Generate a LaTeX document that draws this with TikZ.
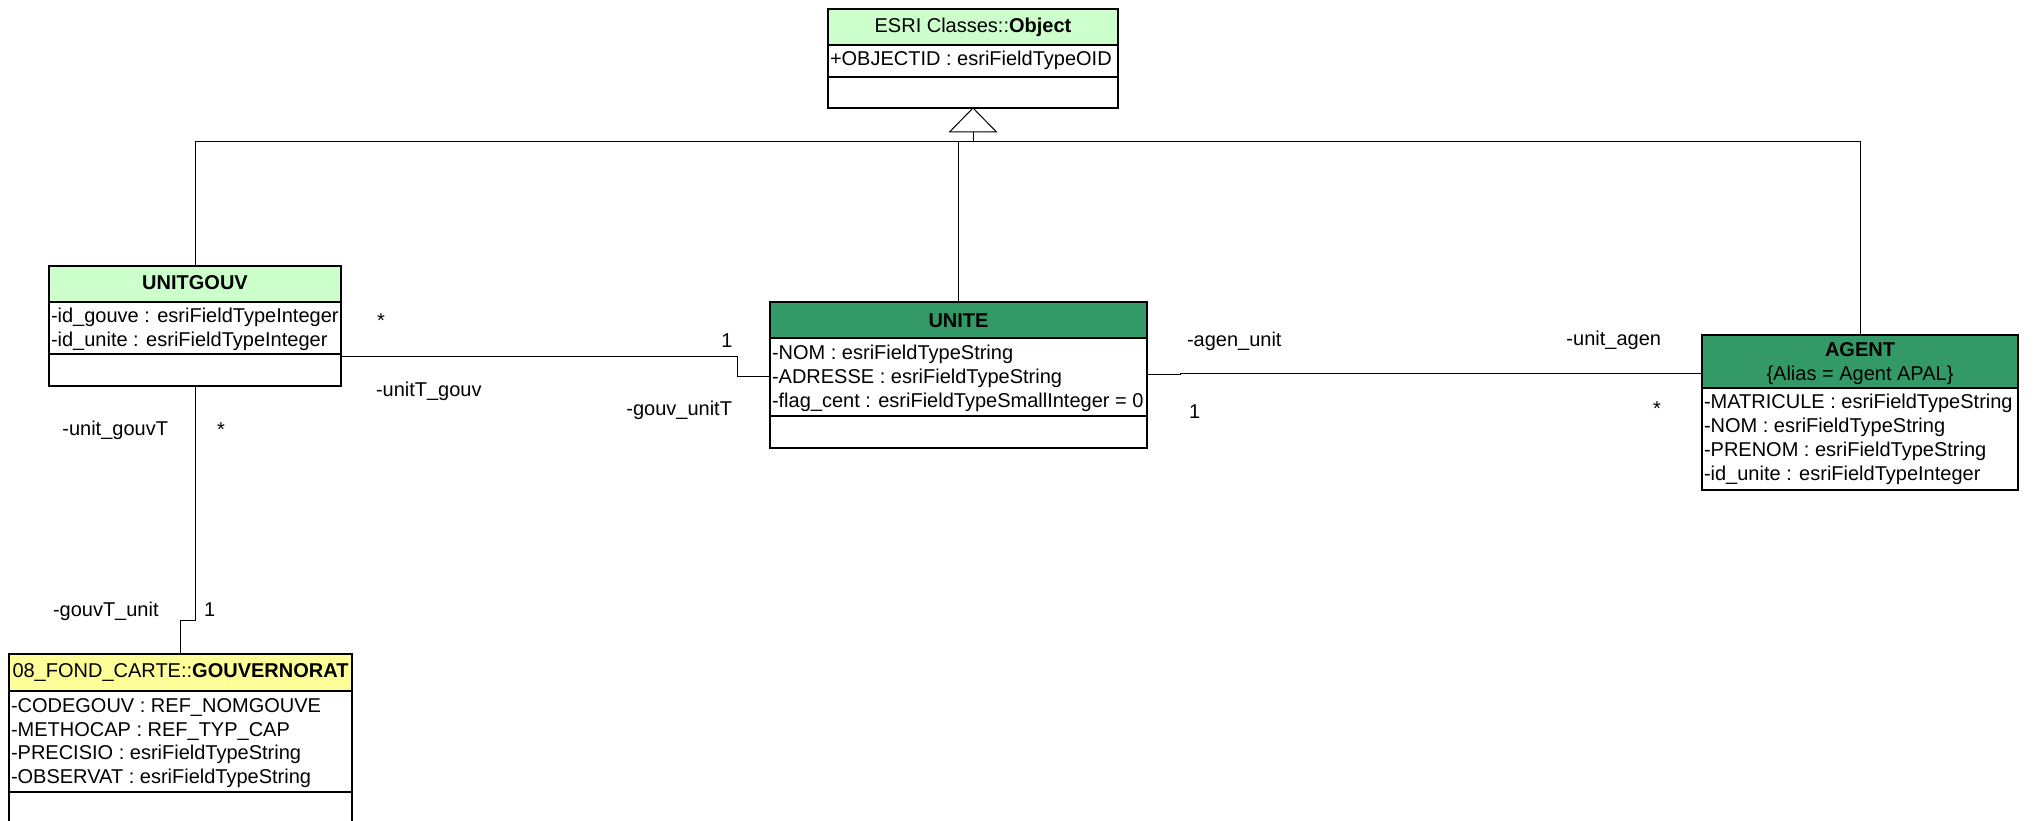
\documentclass[tikz,border=0pt]{standalone}
\usepackage{fontspec}
\setmainfont{Liberation Sans}
\definecolor{lightgreen}{HTML}{CCFFCC}
\definecolor{darkgreen}{HTML}{339966}
\definecolor{paleyellow}{HTML}{FFFF99}
\newcommand\umlclass[8]{%
  \fill[#8] (#2,#3) rectangle (#4,#6);
  \node[classbox, minimum width={#4-#2}, minimum height={#5-#3}] (#1) at (#2,#3) {};
  \draw[boxline] (#2,#6) -- (#4,#6);
  \draw[boxline] (#2,#7) -- (#4,#7);
}
\begin{document}
\begin{tikzpicture}[x=1pt,y=-1pt,
  boxline/.style={line width=1.6pt},
  conn/.style={line width=1pt},
  classbox/.style={draw, line width=1.6pt, inner sep=0pt, outer sep=0pt, anchor=north west},
  txt/.style={inner sep=0pt, outer sep=0pt, font=\fontsize{20}{24}\selectfont},
  attr/.style={txt, anchor=base west},
  hdr/.style={txt, anchor=base},
  lblw/.style={txt, anchor=base west},
  lble/.style={txt, anchor=base east},
  lblc/.style={txt, anchor=base},
]
\useasboundingbox (0,0) rectangle (2038,821);
\clip (0,0) rectangle (2038,821);

% classes
\umlclass{object}{828}{9}{1118}{108}{45}{77}{lightgreen}
\umlclass{unitgouv}{49}{266}{341}{386}{302}{354}{lightgreen}
\umlclass{unite}{770}{302}{1147}{448}{338}{416}{darkgreen}
\umlclass{agent}{1702}{335}{2018}{490}{388}{490}{darkgreen}
\umlclass{gouv}{9}{654}{352}{845}{691}{792}{paleyellow}

% class texts
\node[hdr] (objhdr) at (973,33) {ESRI Classes::\textbf{Object}};
\node[attr] (obja1) at (830,66) {+OBJECTID : esriFieldTypeOID};

\node[hdr] (ughdr) at (195,290) {\textbf{UNITGOUV}};
\node[attr] (uga1) at (51,322) {-id\_gouve : esriFieldTypeInteger};
\node[attr] (uga2) at (51,346) {-id\_unite : esriFieldTypeInteger};

\node[hdr] (unhdr) at (958.5,327) {\textbf{UNITE}};
\node[attr] (una1) at (772,359) {-NOM : esriFieldTypeString};
\node[attr] (una2) at (772,383) {-ADRESSE : esriFieldTypeString};
\node[attr] (una3) at (772,407) {-flag\_cent : esriFieldTypeSmallInteger = 0};

\node[hdr] (aghdr) at (1860,356) {\textbf{AGENT}};
\node[hdr] (agalias) at (1860,380) {\{Alias = Agent APAL\}};
\node[attr] (aga1) at (1704,408) {-MATRICULE : esriFieldTypeString};
\node[attr] (aga2) at (1704,432) {-NOM : esriFieldTypeString};
\node[attr] (aga3) at (1704,456) {-PRENOM : esriFieldTypeString};
\node[attr] (aga4) at (1704,480) {-id\_unite : esriFieldTypeInteger};

\node[hdr] (gohdr) at (180.5,677) {08\_FOND\_CARTE::\textbf{GOUVERNORAT}};
\node[attr] (goa1) at (11,712) {-CODEGOUV : REF\_NOMGOUVE};
\node[attr] (goa2) at (11,736) {-METHOCAP : REF\_TYP\_CAP};
\node[attr] (goa3) at (11,759) {-PRECISIO : esriFieldTypeString};
\node[attr] (goa4) at (11,783) {-OBSERVAT : esriFieldTypeString};

% generalization
\coordinate (gen) at (973,132);
\coordinate (bus) at (973,142);
\draw[conn] (unitgouv.north) -- (unitgouv.north |- bus) -| (gen);
\draw[conn] (unite.north) -- (unite.north |- bus) -| (gen);
\draw[conn] (agent.north) -- (agent.north |- bus) -| (gen);
\draw[conn, fill=white] (object.south) -- ++(-23.5,24) -- ++(47,0) -- cycle;

% associations
\draw[conn] ([yshift=-30pt]unitgouv.east) -- (737,356) |- ([yshift=-1pt]unite.west);
\draw[conn] ([yshift=0.5pt]unite.east) -- (1180,374.5) |- ([yshift=39pt]agent.west);
\draw[conn] (unitgouv.south) -- (195,620) -| (gouv.north);

% association labels
\node[lblc] (m1) at (381,327) {*};
\node[lblc] (m2) at (727,347) {1};
\node[lblw] (r1) at (376,396) {-unitT\_gouv};
\node[lble] (r2) at (732,415) {-gouv\_unitT};

\node[lblw] (r3) at (1187,346) {-agen\_unit};
\node[lble] (r4) at (1661,345) {-unit\_agen};
\node[lblw] (m3) at (1189,418) {1};
\node[lblc] (m4) at (1657,415) {*};

\node[lble] (r5) at (168,435) {-unit\_gouvT};
\node[lblc] (m5) at (221,436) {*};
\node[lblw] (r6) at (53,616) {-gouvT\_unit};
\node[lblw] (m6) at (204,616) {1};
\end{tikzpicture}
\end{document}
